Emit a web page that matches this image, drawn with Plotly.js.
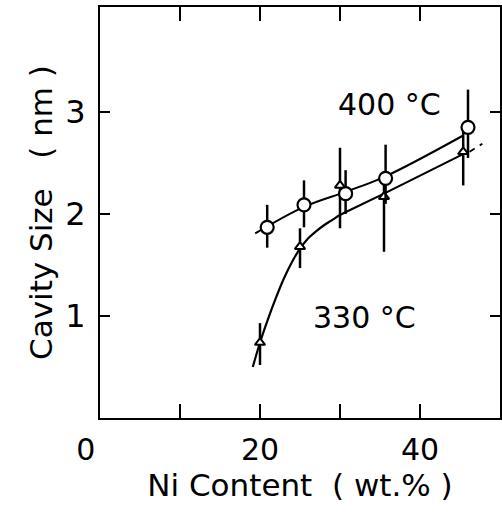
<!DOCTYPE html>
<html>
<head>
<meta charset="utf-8">
<script src="https://cdn.plot.ly/plotly-3.0.1.min.js"></script>
<style>html,body{margin:0;padding:0;background:#fff;}#chart{width:502px;height:524px;}</style>
</head>
<body>
<div id="chart"></div>
<script>
// 400 °C data (open circles)
var x400 = [20.9, 25.5, 30.7, 35.7, 46.0];
var y400 = [1.87, 2.09, 2.20, 2.35, 2.85];
var err400Plus = [0.22, 0.24, 0.23, 0.33, 0.37];
var err400Minus = [0.20, 0.22, 0.20, 0.25, 0.30];
// 330 °C data (small triangles)
var x330 = [20.0, 25.0, 30.0, 35.5, 45.4];
var y330 = [0.74, 1.68, 2.28, 2.17, 2.61];
var err330Plus = [0.19, 0.18, 0.37, 0.20, 0.25];
var err330Minus = [0.22, 0.21, 0.42, 0.54, 0.33];
// fitted curves as drawn
var fit400X = [19.4, 25.5, 30.8, 35.7, 45.4];
var fit400Y = [1.81, 2.07, 2.22, 2.37, 2.77];
var fit330X = [19.1, 20.0, 21.0, 22.0, 23.0, 24.0, 25.0, 26.0, 27.0, 28.0, 29.0, 30.0, 31.0, 35.5, 45.2];
var fit330Y = [0.50, 0.74, 0.97, 1.18, 1.37, 1.53, 1.66, 1.76, 1.83, 1.89, 1.94, 1.99, 2.03, 2.20, 2.58];
var ext330X = [46.2, 47.8];
var ext330Y = [2.61, 2.69];
// ticks
var xTickVals = [0, 10, 20, 30, 40];
var xTickText = ['0\u00A0\u00A0\u00A0', '', '20', '', '40'];
var yTickVals = [1, 2, 3];
var yTickText = ['1', '2', '3'];

var FONT = 'DejaVu Sans, sans-serif';
var traces = [
  {x: fit400X, y: fit400Y, mode: 'lines', line: {color: '#000', width: 2, shape: 'spline'}, hoverinfo: 'skip'},
  {x: fit330X, y: fit330Y, mode: 'lines', line: {color: '#000', width: 2.2, shape: 'spline'}, hoverinfo: 'skip'},
  {x: ext330X, y: ext330Y, mode: 'lines', line: {color: '#000', width: 1.8, dash: '6px,6px'}, hoverinfo: 'skip'},
  {x: x330, y: y330, mode: 'markers', name: '330 °C',
   marker: {symbol: 'triangle-up', size: 9, color: '#fff', line: {color: '#000', width: 2}},
   error_y: {type: 'data', symmetric: false, array: err330Plus, arrayminus: err330Minus, color: '#000', thickness: 2.5, width: 0}},
  {x: x400, y: y400, mode: 'markers', name: '400 °C',
   marker: {symbol: 'circle', size: 13, color: '#fff', line: {color: '#000', width: 2.2}},
   error_y: {type: 'data', symmetric: false, array: err400Plus, arrayminus: err400Minus, color: '#000', thickness: 2.5, width: 0}}
];

var layout = {
  width: 502, height: 524,
  margin: {l: 100, r: 2, t: 7, b: 106},
  paper_bgcolor: '#fff', plot_bgcolor: '#fff',
  showlegend: false,
  font: {family: FONT, color: '#000', size: 28},
  xaxis: {
    range: [0, 50], showgrid: false, zeroline: false,
    showline: true, linecolor: '#000', linewidth: 2, mirror: 'allticks',
    ticks: 'inside', ticklen: 14, tickwidth: 2.5, tickcolor: '#000',
    tickvals: xTickVals, ticktext: xTickText,
    ticklabelstandoff: 4,
    tickfont: {family: FONT, size: 30, color: '#000'},
    title: {text: 'Ni Content\u00A0\u00A0(\u00A0wt.%\u00A0)', font: {family: FONT, size: 31, color: '#000'}, standoff: 3}
  },
  yaxis: {
    range: [0, 4.03], showgrid: false, zeroline: false,
    showline: true, linecolor: '#000', linewidth: 2, mirror: 'allticks',
    ticks: 'inside', ticklen: 10, tickwidth: 2, tickcolor: '#000',
    tickvals: yTickVals, ticktext: yTickText,
    ticklabelstandoff: 6,
    tickfont: {family: FONT, size: 32, color: '#000'},
    title: {text: 'Cavity Size\u00A0\u00A0\u00A0(\u00A0nm\u00A0)', font: {family: FONT, size: 31, color: '#000'}, standoff: 3}
  },
  annotations: [
    {text: '400 °C', x: 36.2, y: 3.07, xref: 'x', yref: 'y', showarrow: false, font: {family: FONT, size: 30, color: '#000'}},
    {text: '330 °C', x: 33.1, y: 0.99, xref: 'x', yref: 'y', showarrow: false, font: {family: FONT, size: 30, color: '#000'}}
  ]
};

Plotly.newPlot('chart', traces, layout, {staticPlot: true, displayModeBar: false});
</script>
</body>
</html>
